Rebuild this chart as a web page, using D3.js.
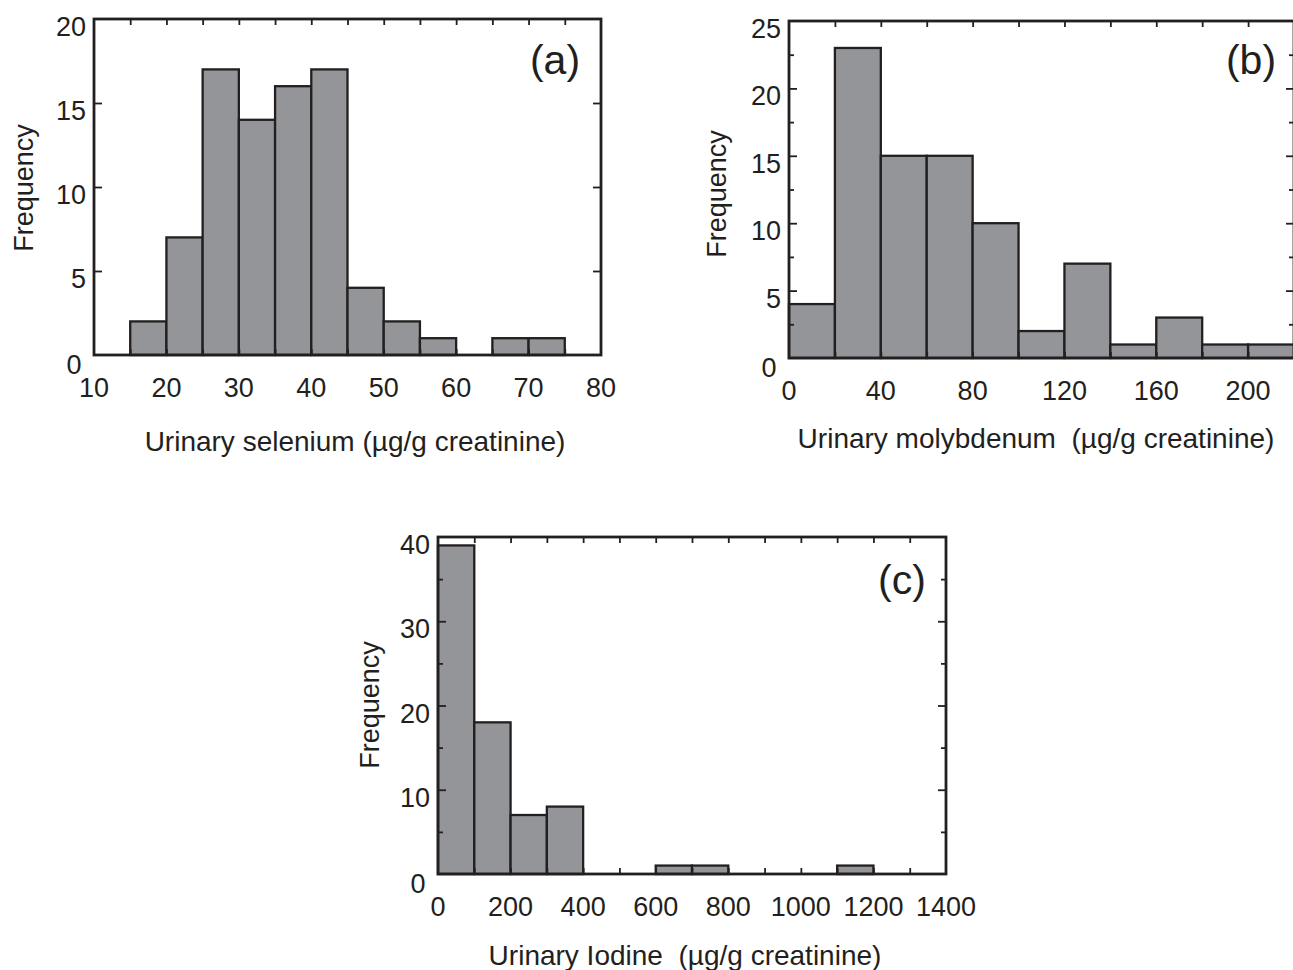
<!DOCTYPE html>
<html>
<head>
<meta charset="utf-8">
<script src="https://cdn.jsdelivr.net/npm/d3@7"></script>
<style>
  body { margin: 0; background: #fff; }
  svg { display: block; }
  text { font-family: "Liberation Sans", Arial, Helvetica, sans-serif; fill: #231f20; white-space: pre; }
</style>
</head>
<body>
<svg id="fig" width="1293" height="970"></svg>
<script>
// data (bin edges + counts)
var seleniumEdges = [15, 20, 25, 30, 35, 40, 45, 50, 55, 60, 65, 70, 75]
var seleniumCounts = [2, 7, 17, 14, 16, 17, 4, 2, 1, 0, 1, 1]
var seleniumXTicks = [10, 20, 30, 40, 50, 60, 70, 80]
var seleniumYTicks = [0, 5, 10, 15, 20]

var molyEdges = [0, 20, 40, 60, 80, 100, 120, 140, 160, 180, 200, 220]
var molyCounts = [4, 23, 15, 15, 10, 2, 7, 1, 3, 1, 1]
var molyXTicks = [0, 40, 80, 120, 160, 200]
var molyYTicks = [0, 5, 10, 15, 20, 25]

var iodineEdges = [0, 100, 200, 300, 400, 500, 600, 700, 800, 900, 1000, 1100, 1200]
var iodineCounts = [39, 18, 7, 8, 0, 0, 1, 1, 0, 0, 0, 1]
var iodineXTicks = [0, 200, 400, 600, 800, 1000, 1200, 1400]
var iodineYTicks = [0, 10, 20, 30, 40]

var ink = "#231f20"
var barFill = "#939598"
var svg = d3.select("#fig")

function drawPanel(p) {
    var x = d3.scaleLinear().domain(p.xDomain).range([p.left, p.right])
    var y = d3.scaleLinear().domain(p.yDomain).range([p.bottom, p.top])
    var g = svg.append("g")

    var bins = []
    for (var i = 0; i < p.counts.length; i++) {
        if (p.counts[i] > 0) bins.push({x0: p.edges[i], x1: p.edges[i + 1], n: p.counts[i]})
    }
    g.selectAll("rect.bar")
        .data(bins)
        .enter()
        .append("rect")
        .attr("class", "bar")
        .attr("x", function(d){ return x(d.x0) })
        .attr("y", function(d){ return y(d.n) })
        .attr("width", function(d){ return x(d.x1) - x(d.x0) })
        .attr("height", function(d){ return y(0) - y(d.n) })
        .attr("fill", barFill)
        .attr("stroke", ink)
        .attr("stroke-width", 2.3)

    // inward ticks on all four sides
    function ticks(axis, tx, ty) {
        var a = g.append("g").attr("transform", "translate(" + tx + "," + ty + ")").call(axis)
        a.select(".domain").remove()
        a.selectAll("text").remove()
        a.selectAll("line").attr("stroke", ink).attr("stroke-width", 1.8)
    }
    ticks(d3.axisTop(x).tickValues(p.xMinor).tickSize(-6), 0, p.top)
    ticks(d3.axisBottom(x).tickValues(p.xMinor).tickSize(-6), 0, p.bottom)
    ticks(d3.axisLeft(y).tickValues(p.yMinor).tickSize(-5), p.left, 0)
    ticks(d3.axisRight(y).tickValues(p.yMinor).tickSize(-5), p.right, 0)
    ticks(d3.axisLeft(y).tickValues(p.yMajor).tickSize(-8), p.left, 0)
    ticks(d3.axisRight(y).tickValues(p.yMajor).tickSize(-8), p.right, 0)

    g.append("rect")
        .attr("x", p.left).attr("y", p.top)
        .attr("width", p.right - p.left).attr("height", p.bottom - p.top)
        .attr("fill", "none").attr("stroke", ink).attr("stroke-width", 2.8)

    // tick labels
    g.selectAll("text.xl")
        .data(p.xTicks)
        .enter()
        .append("text")
        .attr("x", function(d){ return x(d) })
        .attr("y", p.bottom + 42)
        .attr("text-anchor", "middle")
        .attr("font-size", "27px")
        .text(function(d){ return d })
    g.selectAll("text.yl")
        .data(p.yTicks)
        .enter()
        .append("text")
        .attr("x", function(d){ return d == 0 ? p.left - 20 : p.left - 8 })
        .attr("y", function(d){ return d == 0 ? p.bottom + 19 : y(d) + 17 })
        .attr("text-anchor", function(d){ return d == 0 ? "middle" : "end" })
        .attr("font-size", "27px")
        .text(function(d){ return d })

    g.append("text")
        .attr("x", p.xTitle[0]).attr("y", p.xTitle[1])
        .attr("text-anchor", "middle")
        .attr("font-size", "28px")
        .text(p.xLabel)
    g.append("text")
        .attr("transform", "translate(" + p.yTitle[0] + "," + p.yTitle[1] + ") rotate(-90)")
        .attr("text-anchor", "middle")
        .attr("font-size", "27px")
        .text("Frequency")
    g.append("text")
        .attr("x", p.tag[0]).attr("y", p.tag[1])
        .attr("text-anchor", "middle")
        .attr("font-size", "41px")
        .text(p.tagText)
}

drawPanel({
    left: 94, right: 601, top: 19, bottom: 355,
    xDomain: [10, 80], yDomain: [0, 20],
    edges: seleniumEdges, counts: seleniumCounts,
    xTicks: seleniumXTicks, yTicks: seleniumYTicks,
    xMinor: d3.range(15, 80, 5), yMinor: [], yMajor: [5, 10, 15],
    xLabel: "Urinary selenium (\u00b5g/g creatinine)", xTitle: [355, 451],
    yTitle: [33, 188], tag: [555, 74], tagText: "(a)"
})

drawPanel({
    left: 789, right: 1294, top: 21, bottom: 358,
    xDomain: [0, 220], yDomain: [0, 25],
    edges: molyEdges, counts: molyCounts,
    xTicks: molyXTicks, yTicks: molyYTicks,
    xMinor: d3.range(20, 220, 20), yMinor: [2.5, 7.5, 12.5, 17.5, 22.5], yMajor: [5, 10, 15, 20],
    xLabel: "Urinary molybdenum  (\u00b5g/g creatinine)", xTitle: [1036, 448],
    yTitle: [726, 194], tag: [1251, 74], tagText: "(b)"
})

drawPanel({
    left: 438, right: 946, top: 537, bottom: 874,
    xDomain: [0, 1400], yDomain: [0, 40],
    edges: iodineEdges, counts: iodineCounts,
    xTicks: iodineXTicks, yTicks: iodineYTicks,
    xMinor: d3.range(100, 1400, 100), yMinor: [5, 15, 25, 35], yMajor: [10, 20, 30],
    xLabel: "Urinary Iodine  (\u00b5g/g creatinine)", xTitle: [685, 965],
    yTitle: [379, 705], tag: [902, 594], tagText: "(c)"
})
</script>
</body>
</html>
